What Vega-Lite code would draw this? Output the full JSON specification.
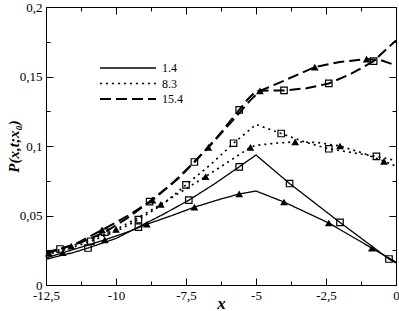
{
  "$schema": "https://vega.github.io/schema/vega-lite/v6.json",
  "autosize": "none",
  "width": 350,
  "height": 278,
  "padding": {"left": 46, "top": 7, "right": 3, "bottom": 26},
  "background": "white",
  "datasets": {
    "lines": [
      {"t":"1.4","c":"A","x":-12.5,"y":0.0185},{"t":"1.4","c":"A","x":-11.5,"y":0.0235},{"t":"1.4","c":"A","x":-11,"y":0.0266},{"t":"1.4","c":"A","x":-10,"y":0.0335},{"t":"1.4","c":"A","x":-9.2,"y":0.0417},{"t":"1.4","c":"A","x":-8.3,"y":0.051},{"t":"1.4","c":"A","x":-7.4,"y":0.061},{"t":"1.4","c":"A","x":-6.5,"y":0.0725},{"t":"1.4","c":"A","x":-5.6,"y":0.085},{"t":"1.4","c":"A","x":-5,"y":0.0935},{"t":"1.4","c":"A","x":-3.8,"y":0.073},{"t":"1.4","c":"A","x":-2,"y":0.045},{"t":"1.4","c":"A","x":-0.25,"y":0.0187},{"t":"1.4","c":"A","x":0,"y":0.0158},
      {"t":"1.4","c":"B","x":-12.5,"y":0.0195},{"t":"1.4","c":"B","x":-11.9,"y":0.0232},{"t":"1.4","c":"B","x":-11.2,"y":0.0275},{"t":"1.4","c":"B","x":-10.4,"y":0.0325},{"t":"1.4","c":"B","x":-9.6,"y":0.038},{"t":"1.4","c":"B","x":-8.9,"y":0.0437},{"t":"1.4","c":"B","x":-8,"y":0.05},{"t":"1.4","c":"B","x":-7.2,"y":0.056},{"t":"1.4","c":"B","x":-6.4,"y":0.061},{"t":"1.4","c":"B","x":-5.6,"y":0.0655},{"t":"1.4","c":"B","x":-5,"y":0.0676},{"t":"1.4","c":"B","x":-4,"y":0.0597},{"t":"1.4","c":"B","x":-2.4,"y":0.0446},{"t":"1.4","c":"B","x":-0.86,"y":0.0265},{"t":"1.4","c":"B","x":0,"y":0.0165},
      {"t":"8.3","c":"A","x":-12.5,"y":0.0215},{"t":"8.3","c":"A","x":-11.7,"y":0.026},{"t":"8.3","c":"A","x":-10.9,"y":0.0315},{"t":"8.3","c":"A","x":-10,"y":0.0385},{"t":"8.3","c":"A","x":-9.2,"y":0.047},{"t":"8.3","c":"A","x":-8.3,"y":0.0585},{"t":"8.3","c":"A","x":-7.5,"y":0.072},{"t":"8.3","c":"A","x":-6.6,"y":0.087},{"t":"8.3","c":"A","x":-5.8,"y":0.102},{"t":"8.3","c":"A","x":-5,"y":0.1155},{"t":"8.3","c":"A","x":-4.1,"y":0.109},{"t":"8.3","c":"A","x":-3.2,"y":0.1025},{"t":"8.3","c":"A","x":-2.4,"y":0.098},{"t":"8.3","c":"A","x":-1.5,"y":0.095},{"t":"8.3","c":"A","x":-0.7,"y":0.0925},{"t":"8.3","c":"A","x":0,"y":0.0895},
      {"t":"8.3","c":"B","x":-12.5,"y":0.0225},{"t":"8.3","c":"B","x":-11.6,"y":0.028},{"t":"8.3","c":"B","x":-10.8,"y":0.0335},{"t":"8.3","c":"B","x":-10,"y":0.04},{"t":"8.3","c":"B","x":-9.2,"y":0.0485},{"t":"8.3","c":"B","x":-8.4,"y":0.058},{"t":"8.3","c":"B","x":-7.6,"y":0.068},{"t":"8.3","c":"B","x":-6.8,"y":0.078},{"t":"8.3","c":"B","x":-6,"y":0.0885},{"t":"8.3","c":"B","x":-5.2,"y":0.099},{"t":"8.3","c":"B","x":-5,"y":0.1005},{"t":"8.3","c":"B","x":-4.3,"y":0.102},{"t":"8.3","c":"B","x":-3.6,"y":0.103},{"t":"8.3","c":"B","x":-2.8,"y":0.1025},{"t":"8.3","c":"B","x":-2,"y":0.1},{"t":"8.3","c":"B","x":-1.2,"y":0.095},{"t":"8.3","c":"B","x":-0.43,"y":0.089},{"t":"8.3","c":"B","x":0,"y":0.0855},
      {"t":"15.4","c":"A","x":-12.5,"y":0.0235},{"t":"15.4","c":"A","x":-12,"y":0.0259},{"t":"15.4","c":"A","x":-11.2,"y":0.031},{"t":"15.4","c":"A","x":-10.4,"y":0.038},{"t":"15.4","c":"A","x":-9.6,"y":0.048},{"t":"15.4","c":"A","x":-8.8,"y":0.06},{"t":"15.4","c":"A","x":-8,"y":0.073},{"t":"15.4","c":"A","x":-7.2,"y":0.0885},{"t":"15.4","c":"A","x":-6.4,"y":0.106},{"t":"15.4","c":"A","x":-5.6,"y":0.126},{"t":"15.4","c":"A","x":-5.3,"y":0.1335},{"t":"15.4","c":"A","x":-5,"y":0.1395},{"t":"15.4","c":"A","x":-4.5,"y":0.14},{"t":"15.4","c":"A","x":-4,"y":0.14},{"t":"15.4","c":"A","x":-3.2,"y":0.1415},{"t":"15.4","c":"A","x":-2.4,"y":0.145},{"t":"15.4","c":"A","x":-1.6,"y":0.152},{"t":"15.4","c":"A","x":-0.8,"y":0.161},{"t":"15.4","c":"A","x":0,"y":0.176},
      {"t":"15.4","c":"B","x":-12.5,"y":0.0225},{"t":"15.4","c":"B","x":-12.4,"y":0.023},{"t":"15.4","c":"B","x":-11.4,"y":0.03},{"t":"15.4","c":"B","x":-10.5,"y":0.0396},{"t":"15.4","c":"B","x":-9.6,"y":0.0495},{"t":"15.4","c":"B","x":-8.7,"y":0.061},{"t":"15.4","c":"B","x":-7.7,"y":0.078},{"t":"15.4","c":"B","x":-6.7,"y":0.099},{"t":"15.4","c":"B","x":-5.8,"y":0.119},{"t":"15.4","c":"B","x":-5.2,"y":0.133},{"t":"15.4","c":"B","x":-4.86,"y":0.1396},{"t":"15.4","c":"B","x":-4,"y":0.147},{"t":"15.4","c":"B","x":-2.9,"y":0.1568},{"t":"15.4","c":"B","x":-2,"y":0.1605},{"t":"15.4","c":"B","x":-1.05,"y":0.1625},{"t":"15.4","c":"B","x":-0.5,"y":0.1615},{"t":"15.4","c":"B","x":0,"y":0.158}
    ],
    "marks": [
      {"s":"sq","x":-11,"y":0.0266},{"s":"sq","x":-9.2,"y":0.0417},{"s":"sq","x":-7.4,"y":0.061},{"s":"sq","x":-5.6,"y":0.085},{"s":"sq","x":-3.8,"y":0.073},{"s":"sq","x":-2,"y":0.045},{"s":"sq","x":-0.25,"y":0.0187},
      {"s":"sq","x":-10.9,"y":0.0315},{"s":"sq","x":-9.2,"y":0.047},{"s":"sq","x":-7.5,"y":0.072},{"s":"sq","x":-5.8,"y":0.102},{"s":"sq","x":-4.1,"y":0.109},{"s":"sq","x":-2.4,"y":0.098},{"s":"sq","x":-0.7,"y":0.0925},
      {"s":"sq","x":-12,"y":0.0259},{"s":"sq","x":-10.4,"y":0.038},{"s":"sq","x":-8.8,"y":0.06},{"s":"sq","x":-7.2,"y":0.0885},{"s":"sq","x":-5.6,"y":0.126},{"s":"sq","x":-4,"y":0.14},{"s":"sq","x":-2.4,"y":0.145},{"s":"sq","x":-0.8,"y":0.161},
      {"s":"tri","x":-11.9,"y":0.0232},{"s":"tri","x":-10.4,"y":0.0325},{"s":"tri","x":-8.9,"y":0.0437},{"s":"tri","x":-7.2,"y":0.056},{"s":"tri","x":-5.6,"y":0.0655},{"s":"tri","x":-4,"y":0.0597},{"s":"tri","x":-2.4,"y":0.0446},{"s":"tri","x":-0.86,"y":0.0265},
      {"s":"tri","x":-11.6,"y":0.028},{"s":"tri","x":-10,"y":0.04},{"s":"tri","x":-8.4,"y":0.058},{"s":"tri","x":-6.8,"y":0.078},{"s":"tri","x":-5.2,"y":0.099},{"s":"tri","x":-3.6,"y":0.103},{"s":"tri","x":-2,"y":0.1},{"s":"tri","x":-0.43,"y":0.089},
      {"s":"tri","x":-12.4,"y":0.023},{"s":"tri","x":-10.5,"y":0.0396},{"s":"tri","x":-8.7,"y":0.061},{"s":"tri","x":-6.7,"y":0.099},{"s":"tri","x":-4.86,"y":0.1396},{"s":"tri","x":-2.9,"y":0.1568},{"s":"tri","x":-1.05,"y":0.1625}
    ]
  },
  "layer": [
    {
      "data": {"name": "lines"},
      "transform": [{"filter": {"field": "c", "equal": "A"}}],
      "mark": {"type": "line", "color": "black", "strokeCap": "butt"},
      "encoding": {
        "x": {"field": "x", "type": "quantitative", "scale": {"domain": [-12.5, 0], "nice": false, "zero": false},
          "axis": {"orient": "bottom", "values": [-12.5, -10, -7.5, -5, -2.5, 0], "tickSize": -7, "labelPadding": 11, "labelFlush": false, "labelOverlap": false,
            "labelExpr": "replace(toString(datum.value), '.', ',')",
            "title": "x", "titleFont": "Liberation Serif", "titleFontStyle": "italic", "titleFontWeight": "bold", "titleFontSize": 17, "titleY": 23, "titleBaseline": "alphabetic"}},
        "y": {"field": "y", "type": "quantitative", "scale": {"domain": [0, 0.2], "nice": false, "zero": false},
          "axis": {"orient": "left", "values": [0, 0.05, 0.1, 0.15, 0.2], "tickSize": -7, "labelPadding": 11, "labelFlush": false, "labelOverlap": false,
            "labelExpr": "replace(toString(datum.value), '.', ',')",
            "title": "P(x,t;x₀)", "titleFont": "Liberation Serif", "titleFontStyle": "italic", "titleFontWeight": "bold", "titleFontSize": 15, "titleAngle": 270, "titleX": -33, "titleY": 139, "titleAlign": "center", "titleBaseline": "middle"}},
        "detail": {"field": "c"},
        "strokeDash": {"field": "t", "type": "ordinal", "scale": {"domain": ["1.4", "8.3", "15.4"], "range": [[1, 0], [2, 4], [11, 5]]},
          "legend": {"title": null, "orient": "none", "legendX": 75, "legendY": 54, "symbolType": "M-4.67,0H4.67", "symbolSize": 144, "symbolStrokeColor": "black", "labelOffset": 27, "labelFont": "Liberation Serif", "labelFontSize": 12, "labelColor": "black", "rowPadding": 2.5, "padding": 0}},
        "strokeWidth": {"field": "t", "type": "ordinal", "scale": {"domain": ["1.4", "8.3", "15.4"], "range": [1.3, 2, 1.8]},
          "legend": {"title": null, "orient": "none", "legendX": 75, "legendY": 54, "symbolType": "M-4.67,0H4.67", "symbolSize": 144, "symbolStrokeColor": "black", "labelOffset": 27, "labelFont": "Liberation Serif", "labelFontSize": 12, "labelColor": "black", "rowPadding": 2.5, "padding": 0}}
      }
    },
    {
      "data": {"name": "lines"},
      "transform": [{"filter": {"field": "c", "equal": "B"}}],
      "mark": {"type": "line", "color": "black", "strokeCap": "butt"},
      "encoding": {
        "x": {"field": "x", "type": "quantitative", "axis": {"orient": "bottom", "values": [-11.25, -8.75, -6.25, -3.75, -1.25], "tickSize": -4, "labels": false, "title": null}},
        "y": {"field": "y", "type": "quantitative", "axis": {"orient": "left", "values": [0.025, 0.075, 0.125, 0.175], "tickSize": -4, "labels": false, "title": null}},
        "detail": {"field": "c"},
        "strokeDash": {"field": "t", "type": "ordinal"},
        "strokeWidth": {"field": "t", "type": "ordinal"}
      }
    },
    {
      "data": {"name": "marks"},
      "transform": [{"filter": {"field": "s", "equal": "sq"}}],
      "mark": {"type": "point", "shape": "square", "size": 42, "filled": false, "stroke": "black", "strokeWidth": 1.2, "opacity": 1},
      "encoding": {
        "x": {"field": "x", "type": "quantitative", "axis": {"orient": "top", "values": [-12.5, -10, -7.5, -5, -2.5, 0], "tickSize": -7, "labels": false, "title": null}},
        "y": {"field": "y", "type": "quantitative", "axis": {"orient": "right", "values": [0, 0.05, 0.1, 0.15, 0.2], "tickSize": -7, "labels": false, "title": null}}
      }
    },
    {
      "data": {"name": "marks"},
      "transform": [{"filter": {"field": "s", "equal": "tri"}}],
      "mark": {"type": "point", "shape": "triangle-up", "size": 60, "filled": true, "fill": "black", "strokeWidth": 0, "opacity": 1},
      "encoding": {
        "x": {"field": "x", "type": "quantitative", "axis": {"orient": "top", "values": [-11.25, -8.75, -6.25, -3.75, -1.25], "tickSize": -4, "labels": false, "title": null}},
        "y": {"field": "y", "type": "quantitative", "axis": {"orient": "right", "values": [0.025, 0.075, 0.125, 0.175], "tickSize": -4, "labels": false, "title": null}}
      }
    }
  ],
  "resolve": {"axis": {"x": "independent", "y": "independent"}},
  "config": {
    "view": {"stroke": "black", "strokeWidth": 1},
    "axis": {"labelFont": "Liberation Serif", "labelFontSize": 13, "labelColor": "black", "tickColor": "black", "tickWidth": 1, "domain": false, "grid": false, "titleColor": "black"}
  }
}
